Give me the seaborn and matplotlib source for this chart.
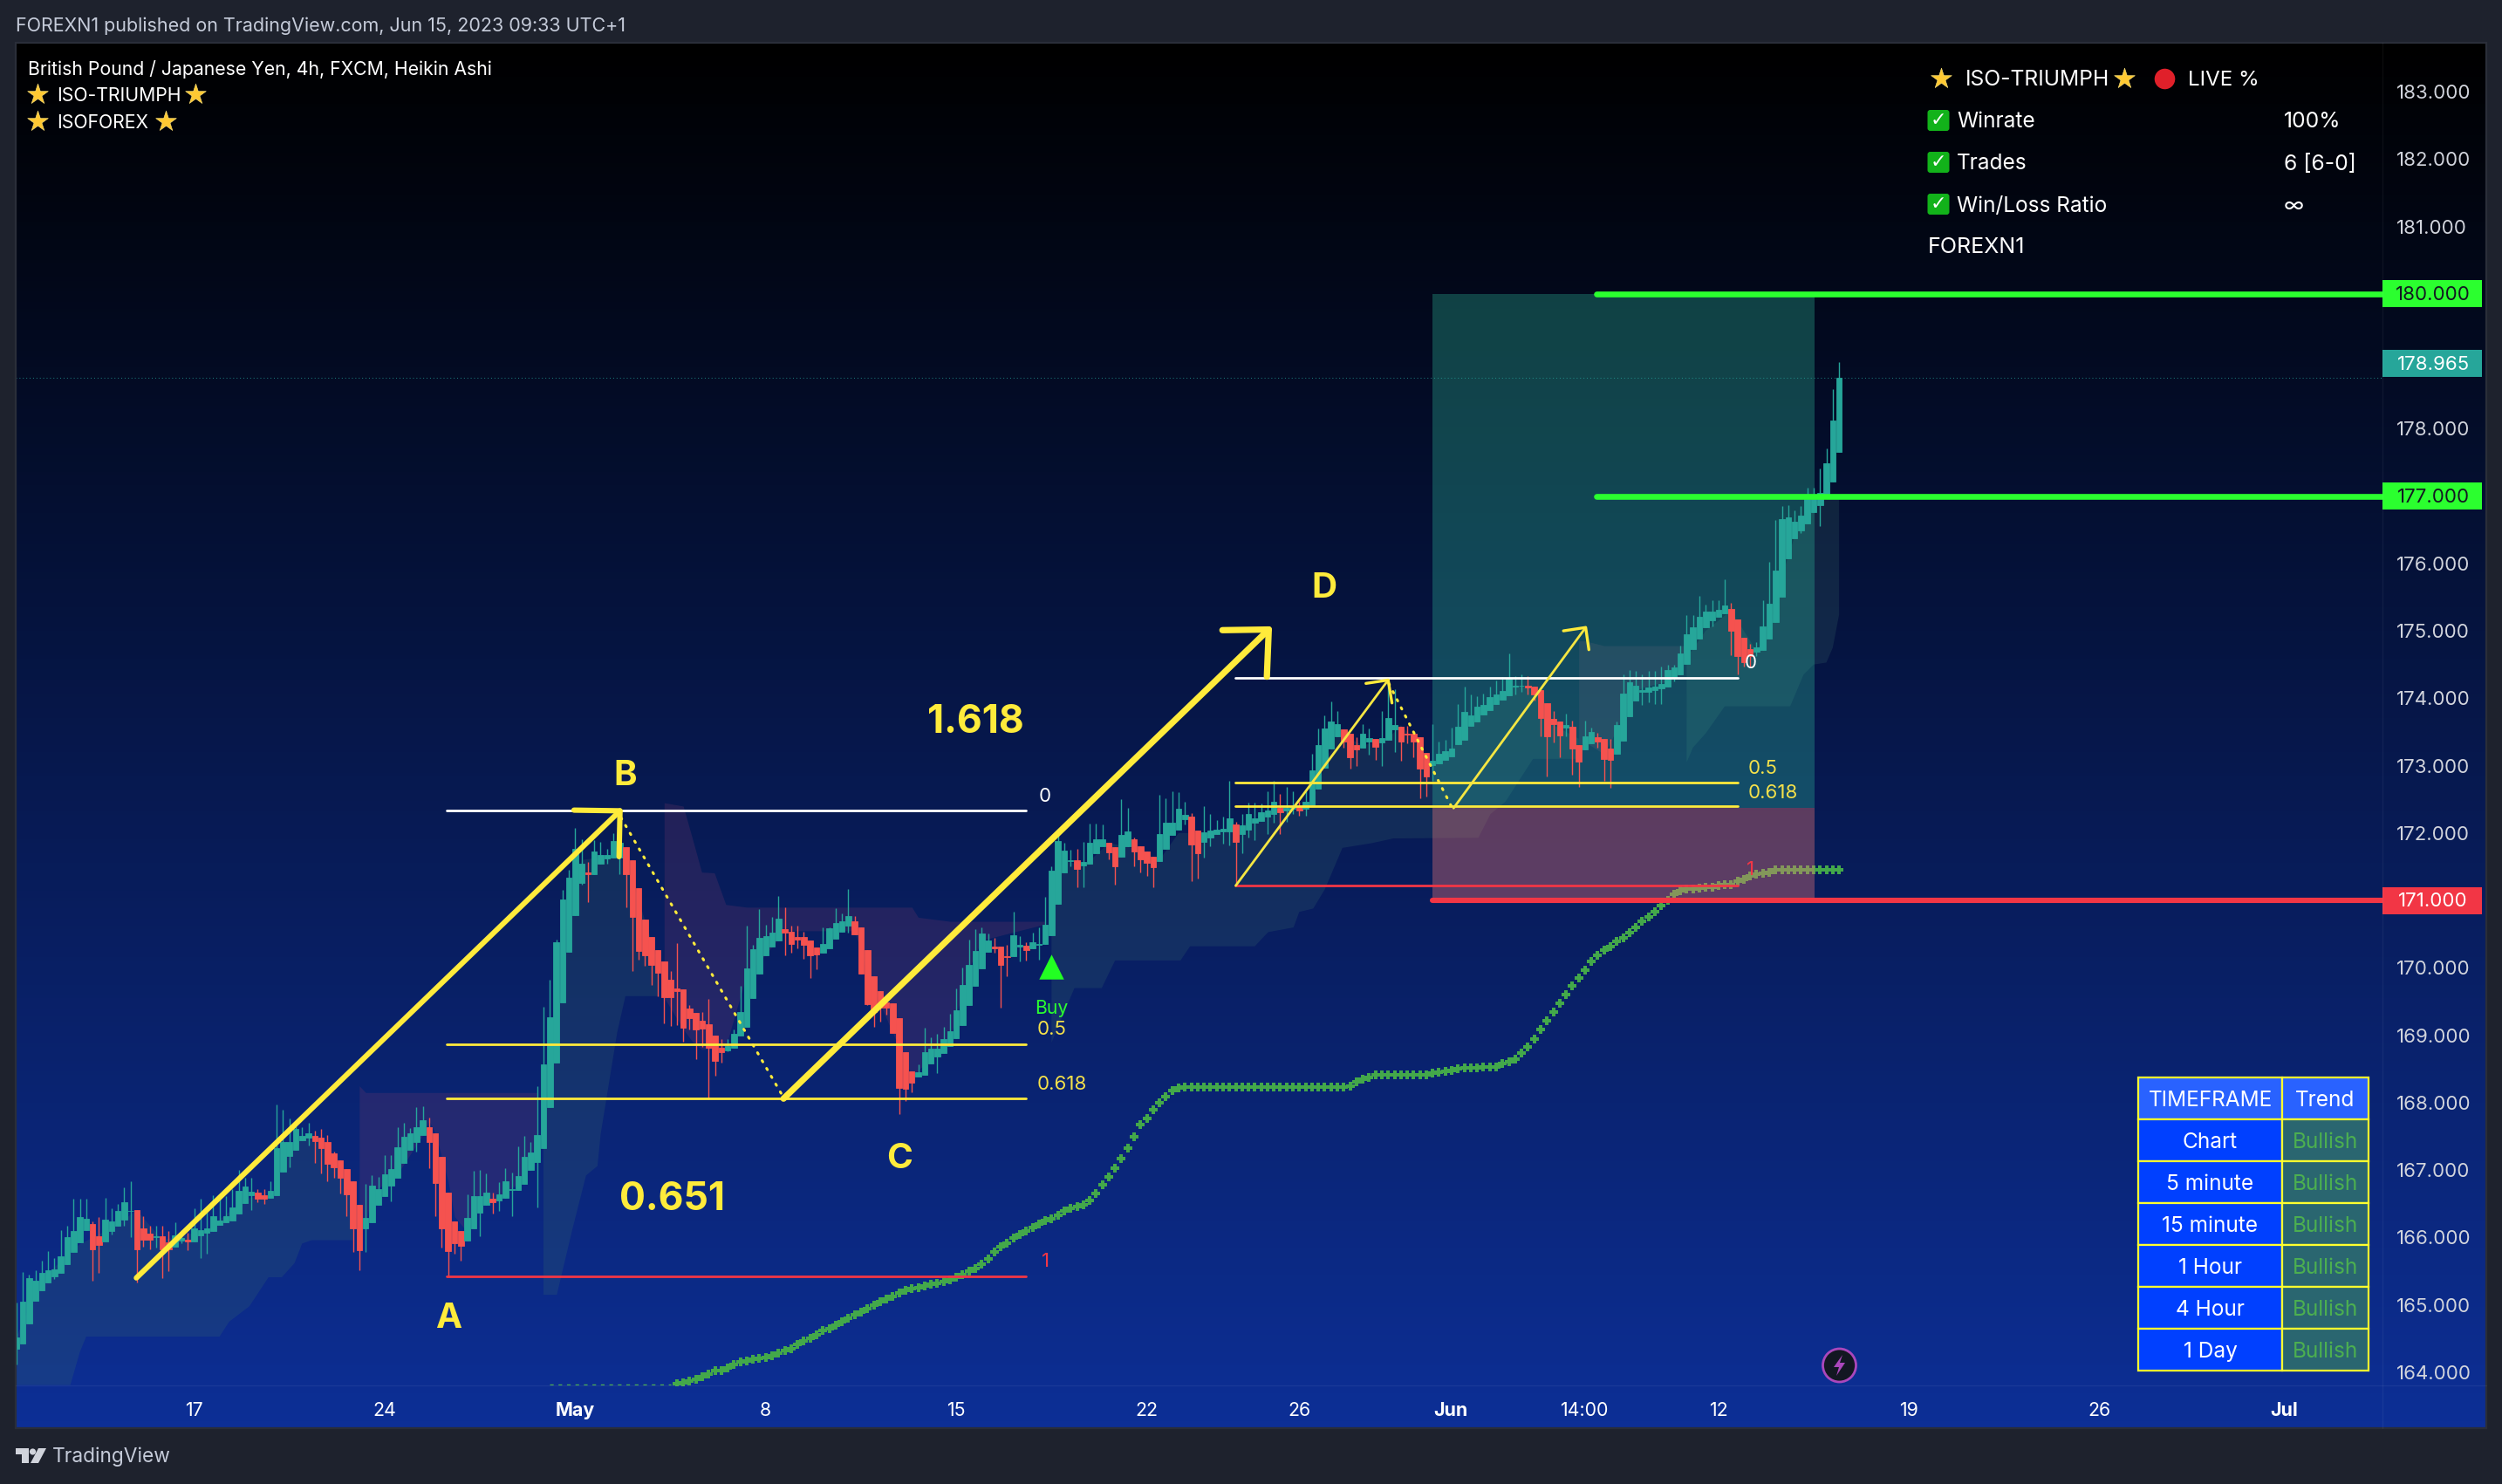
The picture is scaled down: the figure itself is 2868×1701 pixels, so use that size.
import numpy as np
import seaborn as sns
import matplotlib.pyplot as plt
from matplotlib.patches import Rectangle, FancyBboxPatch, Circle, Polygon
from matplotlib.colors import LinearSegmentedColormap

# Heikin Ashi candles, oldest first
direction = ("G" * 12 + "R" * 2 + "G" * 5 + "R" * 3 + "G" + "R" * 2 + "G" * 2 + "R" + "G" * 10 + "R" * 2
             + "G" * 7 + "R" * 8 + "G" * 10 + "R" * 6 + "G" * 4 + "R" + "G" * 14 + "R" + "G" * 5 + "R" * 16
             + "G" * 9 + "R" * 6 + "G" * 5 + "R" * 10 + "G" * 12 + "R" * 3 + "G" * 2 + "R" + "G" * 7 + "R"
             + "G" * 4 + "R" * 2 + "G" * 2 + "R" * 4 + "G" * 5 + "R" * 2 + "G" * 5 + "R" + "G" * 6 + "R"
             + "G" * 2 + "R" + "G" * 6 + "R" * 3 + "G" * 2 + "R" + "G" * 3 + "R" * 5 + "G" * 15 + "R" * 6
             + "G" + "R" * 2 + "G" * 2 + "R" * 3 + "G" * 18 + "R" * 4 + "G" * 14)

body_high = [
    164.52, 165.05, 165.40, 165.36, 165.48, 165.52, 165.53, 165.72, 166.00, 166.10, 166.30, 166.28,
    166.20, 166.02, 166.26, 166.24, 166.39, 166.52, 166.40, 166.41, 166.13, 166.06, 166.02, 166.02,
    165.93, 166.03, 165.99, 165.97, 166.13, 166.11, 166.13, 166.31, 166.25, 166.31, 166.44, 166.69,
    166.76, 166.68, 166.67, 166.63, 166.69, 167.33, 167.41, 167.41, 167.61, 167.51, 167.54, 167.51,
    167.48, 167.41, 167.25, 167.15, 167.02, 166.84, 166.49, 166.29, 166.77, 166.72, 166.94, 167.02,
    167.34, 167.49, 167.55, 167.64, 167.74, 167.64, 167.54, 167.19, 166.67, 166.24, 166.09, 166.29,
    166.62, 166.62, 166.66, 166.58, 166.64, 166.83, 166.72, 166.91, 167.20, 167.26, 167.52, 168.57,
    169.27, 170.38, 171.01, 171.34, 171.76, 171.55, 171.42, 171.72, 171.67, 171.67, 171.88, 171.85,
    171.79, 171.60, 171.18, 170.72, 170.46, 170.26, 170.09, 169.83, 169.69, 169.68, 169.40, 169.33,
    169.21, 169.16, 168.99, 168.82, 168.84, 169.02, 169.35, 169.99, 170.28, 170.45, 170.47, 170.52,
    170.73, 170.57, 170.54, 170.46, 170.46, 170.41, 170.30, 170.36, 170.59, 170.67, 170.69, 170.77,
    170.69, 170.60, 170.26, 169.87, 169.66, 169.49, 169.47, 169.25, 168.75, 168.47, 168.45, 168.75,
    168.80, 168.80, 168.94, 169.06, 169.37, 169.75, 170.04, 170.25, 170.51, 170.40, 170.32, 170.31,
    170.17, 170.48, 170.34, 170.33, 170.38, 170.35, 170.64, 171.44, 171.88, 171.74, 171.60, 171.60,
    171.57, 171.86, 171.91, 171.91, 171.86, 171.79, 171.97, 172.02, 171.91, 171.81, 171.73, 171.65,
    171.99, 172.16, 172.15, 172.36, 172.27, 172.24, 172.04, 172.01, 172.04, 172.05, 172.06, 172.22,
    172.13, 172.12, 172.28, 172.22, 172.31, 172.34, 172.46, 172.37, 172.38, 172.40, 172.40, 172.46,
    172.93, 173.30, 173.55, 173.66, 173.62, 173.54, 173.47, 173.30, 173.47, 173.41, 173.40, 173.41,
    173.71, 173.60, 173.58, 173.47, 173.47, 173.42, 173.19, 173.07, 173.18, 173.21, 173.26, 173.58,
    173.80, 173.75, 173.88, 173.90, 174.02, 174.05, 174.11, 174.30, 174.18, 174.19, 174.18, 174.17,
    174.12, 173.93, 173.69, 173.65, 173.60, 173.58, 173.30, 173.44, 173.50, 173.42, 173.40, 173.25,
    173.60, 174.07, 174.24, 174.19, 174.12, 174.16, 174.17, 174.21, 174.42, 174.46, 174.67, 174.95,
    175.05, 175.21, 175.29, 175.28, 175.31, 175.37, 175.32, 175.17, 174.90, 174.73, 174.75, 175.06,
    175.40, 175.89, 176.66, 176.68, 176.62, 176.71, 176.96, 176.99, 177.05, 177.49, 178.12, 178.76,
]
body_low = [
    164.35, 164.42, 164.73, 165.06, 165.21, 165.33, 165.42, 165.47, 165.60, 165.79, 165.93, 166.11,
    165.83, 165.89, 165.94, 166.09, 166.17, 166.26, 166.39, 165.83, 165.97, 165.97, 166.01, 165.83,
    165.83, 165.86, 165.95, 165.94, 165.94, 166.03, 166.07, 166.09, 166.19, 166.22, 166.25, 166.35,
    166.51, 166.63, 166.58, 166.57, 166.59, 166.63, 166.98, 167.21, 167.30, 167.44, 167.48, 167.43,
    167.32, 167.09, 167.04, 166.89, 166.64, 166.13, 165.81, 166.14, 166.22, 166.49, 166.61, 166.77,
    166.89, 167.11, 167.30, 167.42, 167.52, 167.42, 166.81, 166.14, 165.80, 165.92, 165.87, 165.96,
    166.13, 166.37, 166.49, 166.52, 166.55, 166.59, 166.71, 166.71, 166.80, 167.00, 167.12, 167.32,
    167.93, 168.60, 169.49, 170.24, 170.78, 171.26, 171.39, 171.39, 171.55, 171.62, 171.64, 171.64,
    171.39, 170.76, 170.25, 170.19, 170.04, 169.93, 169.56, 169.56, 169.65, 169.11, 169.25, 169.09,
    169.10, 168.82, 168.62, 168.75, 168.78, 168.81, 169.00, 169.13, 169.55, 169.92, 170.18, 170.32,
    170.41, 170.52, 170.36, 170.42, 170.34, 170.19, 170.20, 170.23, 170.29, 170.43, 170.53, 170.62,
    170.50, 169.92, 169.46, 169.35, 169.41, 169.41, 169.03, 168.22, 168.21, 168.30, 168.39, 168.41,
    168.58, 168.69, 168.73, 168.84, 168.96, 169.15, 169.45, 169.73, 169.99, 170.24, 170.29, 170.04,
    170.16, 170.17, 170.31, 170.26, 170.29, 170.34, 170.35, 170.49, 170.95, 171.41, 171.58, 171.47,
    171.52, 171.55, 171.70, 171.80, 171.71, 171.50, 171.65, 171.80, 171.72, 171.61, 171.56, 171.49,
    171.58, 171.77, 171.97, 172.05, 172.20, 171.83, 171.70, 171.87, 171.93, 171.98, 172.02, 172.02,
    171.87, 171.99, 172.05, 172.15, 172.18, 172.25, 172.28, 172.31, 172.33, 172.36, 172.34, 172.36,
    172.41, 172.66, 172.97, 173.26, 173.44, 173.36, 173.13, 173.24, 173.27, 173.36, 173.28, 173.34,
    173.38, 173.54, 173.36, 173.46, 173.36, 172.96, 172.84, 173.01, 173.03, 173.09, 173.14, 173.32,
    173.38, 173.59, 173.66, 173.76, 173.82, 173.92, 173.98, 174.04, 174.17, 174.18, 174.16, 174.05,
    173.71, 173.44, 173.62, 173.45, 173.56, 173.26, 173.06, 173.24, 173.33, 173.36, 173.10, 173.09,
    173.17, 173.37, 173.73, 173.97, 174.09, 174.10, 174.12, 174.15, 174.17, 174.30, 174.36, 174.51,
    174.73, 174.88, 175.05, 175.16, 175.21, 175.26, 175.00, 174.62, 174.54, 174.63, 174.69, 174.71,
    174.89, 175.13, 175.50, 176.07, 176.37, 176.49, 176.59, 176.76, 176.87, 177.01, 177.21, 177.65,
]
wick_high = [
    165.04, 165.49, 165.45, 165.51, 165.66, 165.80, 165.69, 166.11, 166.18, 166.57, 166.58, 166.58,
    166.24, 166.30, 166.59, 166.43, 166.50, 166.74, 166.83, 166.41, 166.32, 166.17, 166.17, 166.17,
    166.09, 166.23, 166.11, 166.07, 166.43, 166.57, 166.44, 166.63, 166.63, 166.61, 166.72, 167.00,
    166.89, 166.89, 166.72, 166.72, 166.83, 167.97, 167.90, 167.76, 167.73, 167.64, 167.70, 167.58,
    167.61, 167.52, 167.28, 167.15, 167.02, 166.84, 166.49, 166.80, 166.92, 166.90, 167.22, 167.22,
    167.63, 167.70, 167.62, 167.93, 167.95, 167.78, 167.54, 167.19, 166.67, 166.24, 166.09, 166.64,
    166.99, 167.00, 166.95, 166.67, 166.82, 167.03, 166.96, 167.35, 167.51, 167.41, 168.25, 169.42,
    169.82, 170.42, 171.16, 171.46, 172.08, 171.91, 171.57, 171.89, 171.87, 171.76, 172.00, 172.00,
    171.79, 171.60, 171.18, 170.72, 170.46, 170.26, 170.09, 169.95, 170.37, 169.68, 169.45, 169.33,
    169.34, 169.54, 168.99, 168.94, 168.94, 169.09, 169.73, 170.62, 170.34, 170.87, 170.64, 170.76,
    171.06, 170.90, 170.62, 170.62, 170.53, 170.41, 170.30, 170.60, 170.60, 170.89, 170.81, 171.17,
    170.77, 170.60, 170.26, 169.87, 169.66, 169.49, 169.47, 169.25, 168.75, 168.47, 168.57, 169.11,
    168.97, 169.02, 169.12, 169.32, 169.69, 170.00, 170.42, 170.57, 170.60, 170.51, 170.44, 170.31,
    170.34, 170.83, 170.47, 170.38, 170.52, 170.60, 171.05, 171.50, 171.97, 171.85, 171.75, 171.76,
    171.87, 172.14, 172.14, 172.13, 171.86, 171.79, 172.50, 172.37, 171.93, 171.81, 171.73, 171.65,
    172.57, 172.52, 172.62, 172.61, 172.47, 172.30, 172.04, 172.40, 172.28, 172.19, 172.24, 172.78,
    172.17, 172.28, 172.45, 172.45, 172.44, 172.62, 172.78, 172.58, 172.69, 172.62, 172.47, 172.62,
    173.18, 173.55, 173.74, 173.95, 173.81, 173.54, 173.47, 173.42, 173.62, 173.55, 173.40, 173.81,
    174.22, 174.13, 173.58, 173.59, 173.47, 173.42, 173.19, 173.62, 173.36, 173.38, 173.57, 173.92,
    174.17, 174.05, 174.03, 174.07, 174.17, 174.26, 174.32, 174.67, 174.33, 174.36, 174.33, 174.17,
    174.12, 173.93, 173.81, 173.65, 173.77, 173.67, 173.30, 173.67, 173.57, 173.49, 173.40, 173.40,
    173.66, 174.36, 174.42, 174.41, 174.36, 174.41, 174.40, 174.47, 174.50, 174.50, 174.78, 175.23,
    175.23, 175.52, 175.39, 175.46, 175.46, 175.76, 175.41, 175.17, 174.90, 174.81, 174.83, 175.45,
    176.03, 176.64, 176.85, 176.87, 176.79, 176.85, 177.13, 177.13, 177.41, 177.71, 178.59, 178.99,
]
wick_low = [
    164.11, 164.42, 164.73, 165.06, 165.21, 165.33, 165.39, 165.47, 165.60, 165.79, 165.93, 166.11,
    165.36, 165.47, 165.94, 166.05, 166.17, 166.18, 166.01, 165.33, 165.86, 165.83, 165.85, 165.40,
    165.50, 165.86, 165.91, 165.81, 165.94, 165.69, 165.76, 166.09, 166.19, 166.22, 166.25, 166.35,
    166.51, 166.41, 166.52, 166.50, 166.59, 166.63, 166.98, 167.04, 167.30, 167.44, 167.37, 167.11,
    166.95, 166.83, 166.89, 166.65, 166.31, 165.79, 165.52, 165.79, 166.22, 166.49, 166.61, 166.54,
    166.89, 167.11, 167.30, 167.28, 167.52, 167.03, 166.31, 165.85, 165.42, 165.76, 165.65, 165.96,
    166.13, 166.02, 166.49, 166.35, 166.40, 166.59, 166.31, 166.71, 166.80, 167.00, 166.44, 167.32,
    167.93, 168.60, 169.49, 170.24, 170.78, 171.24, 170.98, 171.39, 171.55, 171.55, 171.64, 171.39,
    170.90, 169.95, 170.12, 170.03, 169.75, 169.58, 169.18, 169.14, 169.15, 168.91, 169.09, 168.65,
    168.83, 168.05, 168.40, 168.60, 168.76, 168.81, 169.00, 169.13, 169.55, 169.92, 170.18, 170.32,
    170.41, 170.18, 170.22, 170.29, 170.14, 169.85, 169.98, 170.23, 170.29, 170.43, 170.53, 170.52,
    170.50, 169.92, 169.45, 169.13, 169.20, 169.30, 169.03, 167.83, 168.02, 168.16, 168.39, 168.41,
    168.58, 168.44, 168.73, 168.84, 168.96, 169.15, 169.45, 169.73, 169.99, 170.24, 170.22, 169.41,
    169.88, 170.17, 170.09, 170.11, 170.29, 170.12, 170.35, 170.49, 170.95, 171.41, 171.50, 171.20,
    171.19, 171.55, 171.70, 171.80, 171.61, 171.24, 171.65, 171.80, 171.50, 171.42, 171.37, 171.20,
    171.58, 171.77, 171.97, 172.05, 172.13, 171.29, 171.33, 171.63, 171.80, 171.98, 171.84, 171.82,
    171.26, 171.70, 171.93, 171.89, 172.18, 171.99, 172.15, 171.98, 172.17, 172.28, 172.26, 172.26,
    172.41, 172.66, 172.97, 173.26, 173.44, 173.27, 172.95, 172.99, 173.27, 173.16, 173.09, 172.99,
    173.38, 173.20, 173.07, 173.33, 173.12, 172.52, 172.54, 172.77, 173.03, 173.09, 173.14, 173.32,
    173.38, 173.59, 173.66, 173.76, 173.82, 173.92, 173.98, 174.04, 174.05, 174.09, 174.05, 173.96,
    173.44, 172.84, 173.34, 173.12, 173.44, 172.87, 172.68, 173.24, 173.33, 173.27, 172.78, 172.67,
    173.17, 173.37, 173.73, 173.97, 173.90, 173.94, 173.91, 173.92, 174.17, 174.25, 174.36, 174.51,
    174.73, 174.88, 175.05, 175.06, 175.21, 175.26, 174.64, 174.35, 174.47, 174.46, 174.63, 174.71,
    174.89, 175.13, 175.50, 176.07, 176.37, 176.45, 176.59, 176.76, 176.56, 177.01, 177.21, 177.65,
]

# green cross line, one value per bar starting at bar 104
cross_values = [
    163.83, 163.84, 163.87, 163.90, 163.94, 163.97, 164.02, 164.03, 164.07, 164.11, 164.15, 164.17,
    164.19, 164.20, 164.22, 164.25, 164.29, 164.32, 164.35, 164.41, 164.46, 164.51, 164.55, 164.62,
    164.65, 164.70, 164.75, 164.80, 164.85, 164.89, 164.95, 164.99, 165.05, 165.08, 165.13, 165.18,
    165.21, 165.24, 165.25, 165.28, 165.30, 165.32, 165.35, 165.37, 165.41, 165.45, 165.50, 165.54,
    165.60, 165.68, 165.78, 165.86, 165.92, 165.99, 166.04, 166.10, 166.15, 166.20, 166.25, 166.28,
    166.33, 166.39, 166.43, 166.46, 166.48, 166.55, 166.65, 166.78, 166.90, 167.03, 167.17, 167.33,
    167.50, 167.67, 167.76, 167.89, 168.00, 168.09, 168.18, 168.22, 168.23, 168.23, 168.23, 168.23,
    168.23, 168.23, 168.23, 168.23, 168.23, 168.23, 168.23, 168.23, 168.23, 168.23, 168.23, 168.23,
    168.23, 168.23, 168.23, 168.23, 168.23, 168.23, 168.23, 168.23, 168.23, 168.23, 168.25, 168.31,
    168.35, 168.38, 168.41, 168.41, 168.41, 168.41, 168.41, 168.41, 168.41, 168.41, 168.41, 168.44,
    168.45, 168.47, 168.48, 168.50, 168.52, 168.52, 168.52, 168.53, 168.53, 168.53, 168.58, 168.61,
    168.65, 168.74, 168.83, 168.95, 169.08, 169.21, 169.35, 169.47, 169.60, 169.73, 169.85, 169.97,
    170.09, 170.19, 170.26, 170.32, 170.39, 170.45, 170.52, 170.60, 170.69, 170.75, 170.83, 170.92,
    171.00, 171.09, 171.15, 171.17, 171.17, 171.18, 171.19, 171.20, 171.22, 171.23, 171.24, 171.28,
    171.31, 171.36, 171.39, 171.40, 171.42, 171.45, 171.45, 171.45, 171.45, 171.45, 171.45, 171.45,
    171.45, 171.45, 171.45, 171.45,
]
cross_first_bar = 104
flat_bars = list(range(84, 104))
flat_values = [163.82] * 20

# shaded cloud outlines: bar, edge price
teal_a_top_x = [0, 4, 10, 15, 19, 23, 30, 36, 41, 42, 45, 48, 51, 53]
teal_a_top_y = [164.52, 165.39, 165.90, 166.14, 166.40, 165.96, 166.11, 166.57, 166.66, 167.24, 167.50, 167.47, 167.09, 166.43]
teal_a_low_x = [0, 8.5, 10, 11, 32, 33.5, 36.7, 39.7, 41.8, 43.8, 45, 46.5, 53]
teal_a_low_y = [163.81, 163.81, 164.30, 164.53, 164.53, 164.75, 164.98, 165.41, 165.41, 165.62, 165.91, 165.96, 165.96]
purple_a_x = [54, 55, 56, 60, 64, 65, 66, 68, 69, 71, 73, 76, 80, 82]
purple_a_top = [168.25, 168.15, 168.15, 168.15, 168.15, 168.15, 168.15, 168.15, 168.15, 168.15, 168.15, 168.15, 168.15, 168.15]
purple_a_low = [166.20, 166.20, 166.66, 166.94, 167.52, 167.73, 167.54, 166.83, 166.31, 166.08, 166.49, 166.57, 166.89, 167.47]
teal_b_top_x = [83, 85, 87, 89, 93, 96, 98, 101]
teal_b_top_y = [167.50, 169.20, 170.50, 171.60, 171.65, 171.60, 171.00, 170.10]
teal_b_low_x = [83, 85.1, 87.6, 89.7, 91.5, 92, 94.6, 95.9, 101]
teal_b_low_y = [165.15, 165.15, 166.14, 166.92, 167.06, 167.53, 169.04, 169.58, 169.58]
purple_b_x = [102, 105, 106.5, 107.9, 109.9, 111.7, 115, 118, 121, 132, 134, 138, 141, 142, 147, 150, 152, 162]
purple_b_top = [172.45, 172.40, 171.90, 171.42, 171.41, 170.94, 170.90, 170.90, 170.90, 170.90, 170.90, 170.90, 170.90, 170.75, 170.69, 170.69, 170.69, 170.69]
purple_b_low = [169.56, 169.09, 168.90, 168.79, 168.80, 168.83, 169.90, 170.20, 170.55, 170.55, 169.90, 169.03, 168.40, 168.48, 168.95, 169.99, 170.41, 170.65]
teal_c_top_x = [163, 164, 165, 168, 172, 175, 180, 183, 186, 190, 195, 200, 204, 206, 208, 212, 216, 218, 220, 223, 225, 228, 231, 236, 240, 242, 246]
teal_c_top_y = [170.60, 171.40, 171.60, 171.50, 171.85, 171.80, 171.60, 172.00, 172.00, 172.00, 172.20, 172.35, 172.45, 173.00, 173.50, 173.30, 173.40, 173.60, 173.40, 173.00, 173.10, 173.50, 173.80, 174.20, 174.10, 173.60, 173.40]
teal_c_low_x = [163, 164.6, 166.6, 170.9, 173, 183.3, 184.8, 195, 197.1, 201.1, 202, 204.2, 206, 208.8, 213.4, 216.8, 230.2, 232.1, 234.5, 238.8, 246]
teal_c_low_y = [168.89, 169.26, 169.70, 169.70, 170.11, 170.11, 170.32, 170.32, 170.53, 170.60, 170.83, 170.88, 171.16, 171.78, 171.85, 171.92, 171.93, 172.28, 172.47, 173.10, 173.10]
purple_c_x = [246, 247, 250, 252, 254, 256, 261, 263]
purple_c_top = [174.85, 174.85, 174.78, 174.78, 174.78, 174.78, 174.78, 174.78]
purple_c_low = [173.29, 173.35, 173.17, 173.54, 174.04, 174.16, 174.28, 174.59]
teal_d_top_x = [263, 266, 270, 274, 276, 278, 280, 283, 287]
teal_d_top_y = [174.60, 175.00, 175.30, 174.70, 175.00, 175.80, 176.40, 176.90, 177.00]
teal_d_low_x = [263, 264, 266, 269, 279.3, 281.4, 283, 285, 286, 287]
teal_d_low_y = [173.05, 173.27, 173.48, 173.88, 173.88, 174.35, 174.50, 174.53, 174.75, 175.24]

price_ticks = [164, 165, 166, 167, 168, 169, 170, 172, 173, 174, 175, 176, 178, 181, 182, 183]
time_ticks = [28, 58, 88, 118, 148, 178, 202, 225.8, 246.9, 268, 298, 328, 357]
time_labels = ["17", "24", "May", "8", "15", "22", "26", "Jun", "14:00", "12", "19", "26", "Jul"]
bold_times = ["May", "Jun", "Jul"]

timeframes = ["Chart", "5 minute", "15 minute", "1 Hour", "4 Hour", "1 Day"]
trends = ["Bullish"] * 6

TEAL = "#26a69a"
RED = "#f5524f"
YELLOW = "#ffeb3b"
LINE_RED = "#f23645"
LIME = "#2bff2f"
W, H = 2868, 1701

sns.set_theme(style="dark")
plt.rcParams["font.family"] = ["Inter", "DejaVu Sans"]
plt.rcParams["axes.grid"] = False

fig = plt.figure(figsize=(W / 200, H / 200), dpi=200, facecolor="#1e222d")


def rect(l, t, r, b):
    return [l / W, 1 - b / H, (r - l) / W, (b - t) / H]


# background gradient
bg = fig.add_axes(rect(18, 49, 2850, 1637), zorder=0)
grad = LinearSegmentedColormap.from_list("night", ["#000000", "#0d2f96"])
bg.imshow(np.linspace(0, 1, 400).reshape(-1, 1), aspect="auto", cmap=grad)
bg.axis("off")

ax = fig.add_axes(rect(18, 49, 2731, 1588), zorder=1, facecolor="none")
ax.set_xlim(-0.10, 372.56)
ax.set_ylim(163.805, 183.725)
for s in ax.spines.values():
    s.set_visible(False)

# clouds
cloud_teal = dict(color="#3a6a6a", alpha=0.23, linewidth=0, zorder=1)
cloud_purple = dict(color="#7a3a6a", alpha=0.24, linewidth=0, zorder=1)
for tx, ty, lx, ly in [(teal_a_top_x, teal_a_top_y, teal_a_low_x, teal_a_low_y),
                       (teal_b_top_x, teal_b_top_y, teal_b_low_x, teal_b_low_y),
                       (teal_c_top_x, teal_c_top_y, teal_c_low_x, teal_c_low_y),
                       (teal_d_top_x, teal_d_top_y, teal_d_low_x, teal_d_low_y)]:
    ax.fill(list(tx) + list(lx)[::-1], list(ty) + list(ly)[::-1], **cloud_teal)
for px_, pt, pl in [(purple_a_x, purple_a_top, purple_a_low),
                    (purple_b_x, purple_b_top, purple_b_low),
                    (purple_c_x, purple_c_top, purple_c_low)]:
    ax.fill_between(px_, pl, pt, **cloud_purple)

# cross line
cross_bars = list(range(cross_first_bar, cross_first_bar + len(cross_values)))
sns.scatterplot(x=cross_bars, y=cross_values, marker="P", s=13, color="#43a84a", linewidth=0, ax=ax,
                zorder=1.2, legend=False)
sns.lineplot(x=flat_bars, y=flat_values, color="#4caf50", linewidth=0.5, linestyle=(0, (3, 4)), ax=ax,
             zorder=1.2, legend=False, errorbar=None)
ax.plot([277, 287], [171.45, 171.45], color="#43a84a", lw=0.9, zorder=1.2)

# position boxes
ax.fill_between([223, 283.2], 172.37, 180.0, color="#2eb899", alpha=0.33, linewidth=0, zorder=1.5)
ax.fill_between([223, 283.2], 171.0, 172.37, color="#f57a77", alpha=0.36, linewidth=0, zorder=1.5)

# candles
bars = np.arange(len(body_high))
colors = [TEAL if d == "G" else RED for d in direction]
ax.vlines(bars, wick_low, wick_high, colors=colors, linewidth=0.5, zorder=3)
ax.bar(bars, np.array(body_high) - np.array(body_low), bottom=body_low, width=0.9, color=colors,
       edgecolor=colors, linewidth=0.3, zorder=3)
ax.axhline(178.76, color=TEAL, lw=0.35, ls=(0, (1, 3)), alpha=0.8, zorder=2)


def draw(xs, ys, color, lw, **kw):
    kw.setdefault("zorder", 5)
    sns.lineplot(x=xs, y=ys, color=color, linewidth=lw, sort=False, estimator=None, ax=ax, legend=False,
                 solid_capstyle="round", **kw)


# fib levels
for x0, x1, levels in [(67.8, 159, [(172.33, "#ffffff"), (168.87, YELLOW), (168.06, YELLOW), (165.42, LINE_RED)]),
                       (191.9, 271.1, [(174.30, "#ffffff"), (172.75, YELLOW), (172.40, YELLOW), (171.22, LINE_RED)])]:
    for lvl, c in levels:
        draw([x0, x1], [lvl, lvl], c, 1.0, zorder=4)

# targets and stop
draw([248.8, 372.56], [180, 180], LIME, 2.4, zorder=4.5)
draw([248.8, 372.56], [177, 177], LIME, 2.4, zorder=4.5)
draw([223, 372.56], [171, 171], LINE_RED, 2.2, zorder=4.5)

# arrows
draw([18.9, 95.05], [165.40, 172.33], YELLOW, 2.2)
draw([87.8, 95.05, 94.9], [172.34, 172.33, 171.65], YELLOW, 2.2)
draw([120.8, 197.2], [168.06, 175.02], YELLOW, 2.6)
draw([189.9, 197.2, 196.9], [175.01, 175.02, 174.32], YELLOW, 2.6)
draw([192, 216], [171.22, 174.27], "#f5e642", 1.0)
draw([212.5, 216, 216.6], [174.22, 174.27, 173.93], YELLOW, 1.2)
draw([226.3, 247.1], [172.37, 175.05], "#f5e642", 1.0)
draw([243.6, 247.1, 247.6], [175.0, 175.05, 174.72], YELLOW, 1.2)
for xs, ys in [([95.2, 120.9], [172.23, 168.06]), ([216.1, 226.1], [174.22, 172.37])]:
    ax.plot(xs, ys, color=YELLOW, lw=1.1, ls=(0, (0.6, 2.8)), dash_capstyle="round", zorder=5)

# buy marker
ax.scatter([163], [170.02], marker="^", s=105, color="#22ff22", linewidth=0, zorder=6)
ax.text(163, 169.40, "Buy", color=LIME, fontsize=7.6, ha="center", va="center", zorder=6)

# fib labels
fib_labels = [(161.9, 172.54, "0", "#ffffff", "center"), (163, 169.08, "0.5", "#f5e14a", "center"),
              (160.7, 168.27, "0.618", "#f5e14a", "left"), (162, 165.64, "1", LINE_RED, "center"),
              (273, 174.52, "0", "#ffffff", "center"), (272.7, 172.96, "0.5", "#f5e14a", "left"),
              (272.7, 172.60, "0.618", "#f5e14a", "left"), (273, 171.45, "1", LINE_RED, "center")]
for fx, fy, ft, fc, fa in fib_labels:
    ax.text(fx, fy, ft, color=fc, fontsize=8.0, ha=fa, va="center", zorder=6)

# wave labels
letter_labels = [(68, 164.79, "A"), (95.9, 172.85, "B"), (139.1, 167.16, "C"), (205.9, 175.63, "D")]
for wx, wy, wt in letter_labels:
    ax.text(wx, wy, wt, color=YELLOW, fontsize=14.5, fontweight="bold", ha="center", va="center", zorder=6)
ratio_labels = [(103.2, 166.56, "0.651"), (151, 173.64, "1.618")]
for wx, wy, wt in ratio_labels:
    ax.text(wx, wy, wt, color=YELLOW, fontsize=16.0, fontweight="bold", ha="center", va="center", zorder=6)

# axes
ax.yaxis.tick_right()
ax.set_yticks(price_ticks)
ax.set_yticklabels([f"{p:.3f}" for p in price_ticks], color="#d1d4dc", fontsize=8.0)
ax.set_xticks(time_ticks)
ax.set_xticklabels(time_labels, color="#ffffff", fontsize=7.7)
for lab in ax.get_xticklabels():
    if lab.get_text() in bold_times:
        lab.set_fontweight("bold")
ax.tick_params(axis="y", length=0, pad=5.8)
ax.tick_params(axis="x", length=0, pad=7.0)
ax.set_xlabel("")
ax.set_ylabel("")

# price tags on the right scale
tr = ax.get_yaxis_transform()
tag_right = (2844.5 - 18) / (2731 - 18) - 1
for price, txt, fc, tc in [(180.0, "180.000", LIME, "#131722"), (177.0, "177.000", LIME, "#131722"),
                           (178.965, "178.965", TEAL, "#ffffff"), (171.0, "171.000", LINE_RED, "#ffffff")]:
    ax.add_patch(Rectangle((1, price - 0.2), tag_right, 0.4, transform=tr, facecolor=fc, edgecolor="none",
                           clip_on=False, zorder=7))
    ax.text(1 + tag_right / 2 + 0.0005, price - 0.015, txt, transform=tr, color=tc, fontsize=8.0, ha="center",
            va="center", zorder=8, clip_on=False)

# overlay in image pixels for the page furniture
ov = fig.add_axes([0, 0, 1, 1], zorder=3, facecolor="none")
ov.set_xlim(0, W)
ov.set_ylim(H, 0)
ov.axis("off")

ov.add_patch(Rectangle((18, 49), 2832, 1588, fill=False, edgecolor="#2a2e39", lw=0.8))
ov.plot([18, 2850], [1588, 1588], color="#ffffff", alpha=0.06, lw=0.5)
ov.plot([2731, 2731], [49, 1637], color="#ffffff", alpha=0.05, lw=0.5)

ov.text(18, 30, "FOREXN1 published on TradingView.com, Jun 15, 2023 09:33 UTC+1", color="#c5cbd9", fontsize=7.74,
        ha="left", va="center")
ov.text(32, 79, "British Pound / Japanese Yen, 4h, FXCM, Heikin Ashi", color="#ffffff", fontsize=7.65,
        ha="left", va="center")
ov.text(65, 110, "ISO-TRIUMPH", color="#ffffff", fontsize=7.65, ha="left", va="center")
ov.text(65, 141, "ISOFOREX", color="#ffffff", fontsize=7.65, ha="left", va="center")
ov.scatter([43, 224, 43, 190, 2224.6, 2435], [108, 108, 139, 139, 90, 90], marker="*", s=80, color="#ffc933",
           edgecolor="#ffe680", linewidth=0.2)

ov.text(2253, 92, "ISO-TRIUMPH", color="#ffffff", fontsize=8.9, ha="left", va="center")
ov.scatter([2481], [90], marker="o", s=72, color="#e0202a", linewidth=0)
ov.text(2508, 92, "LIVE %", color="#ffffff", fontsize=8.7, ha="left", va="center")
panel_rows = [(138, "Winrate", "100%"), (186, "Trades", "6 [6-0]"), (234, "Win/Loss Ratio", "∞")]
for ry, name, val in panel_rows:
    ov.add_patch(FancyBboxPatch((2209.5, ry - 12), 25, 24, boxstyle="round,pad=0,rounding_size=3", facecolor="#12b21a",
                                edgecolor="none"))
    ov.text(2222, ry, "✓", color="#ffffff", fontsize=8, ha="center", va="center", family="DejaVu Sans",
            fontweight="bold")
    ov.text(2243, ry + 2, name, color="#ffffff", fontsize=8.8, ha="left", va="center")
    ov.text(2618, ry + 2, val, color="#ffffff", fontsize=8.9, ha="left", va="center")
ov.text(2210, 284, "FOREXN1", color="#ffffff", fontsize=9.0, ha="left", va="center")

# trend table
tl, tm, tr_, tt, rh = 2451, 2616, 2715, 1235, 48
header = ["TIMEFRAME", "Trend"]
for col, (a, b) in enumerate([(tl, tm), (tm, tr_)]):
    ov.add_patch(Rectangle((a, tt), b - a, rh, facecolor="#2962ff", edgecolor="#ffff2e", lw=0.8))
    ov.text((a + b) / 2, tt + rh / 2 + 2, header[col], color="#ffffff", fontsize=8.8, ha="center", va="center")
for i, (tf, st) in enumerate(zip(timeframes, trends)):
    y0 = tt + rh * (i + 1)
    ov.add_patch(Rectangle((tl, y0), tm - tl, rh, facecolor="#0040ff", edgecolor="#ffff2e", lw=0.8))
    ov.add_patch(Rectangle((tm, y0), tr_ - tm, rh, facecolor="#2a6670", edgecolor="#ffff2e", lw=0.8))
    ov.text((tl + tm) / 2, y0 + rh / 2 + 2, tf, color="#ffffff", fontsize=8.8, ha="center", va="center")
    ov.text((tm + tr_) / 2, y0 + rh / 2 + 2, st, color="#4caf50", fontsize=8.8, ha="center", va="center")

# lightning badge
ov.add_patch(Circle((2108.5, 1565), 19, facecolor="#131722", edgecolor="#ab47bc", lw=1.0))
ov.add_patch(Polygon([(2112, 1553), (2102, 1567), (2108, 1567), (2105, 1577), (2115, 1562), (2109, 1562)],
                     closed=True, facecolor="#ab47bc", edgecolor="none"))

# footer logo
logo = "#d1d4dc"
ov.add_patch(Polygon([(18, 1660), (33, 1660), (33, 1677), (25, 1677), (25, 1667), (18, 1667)], closed=True,
                     facecolor=logo, edgecolor="none"))
ov.add_patch(Circle((37.5, 1664), 3.6, facecolor=logo, edgecolor="none"))
ov.add_patch(Polygon([(44, 1660), (53, 1660), (44, 1677), (35, 1677)], closed=True, facecolor=logo, edgecolor="none"))
ov.text(60, 1670, "TradingView", color="#c5cbd9", fontsize=8.2, ha="left", va="center")

fig.savefig("out.png", dpi=200, facecolor=fig.get_facecolor())
